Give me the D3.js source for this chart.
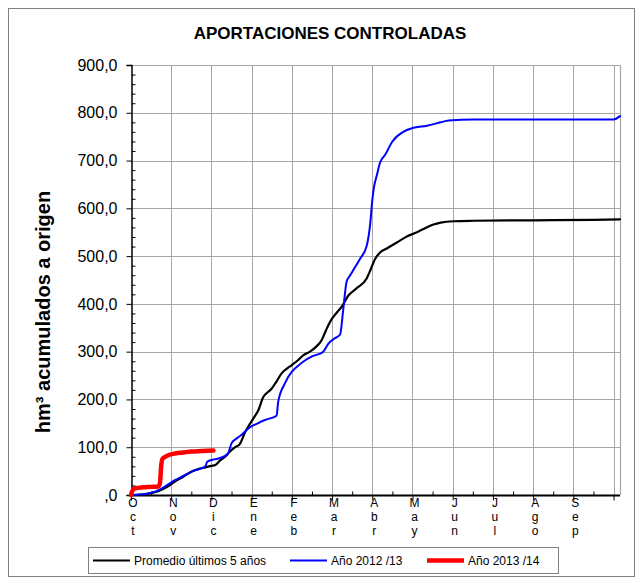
<!DOCTYPE html>
<html><head><meta charset="utf-8">
<script src="https://cdn.jsdelivr.net/npm/d3@7"></script>
<style>
body{margin:0;background:#fff;}
svg text{font-family:"Liberation Sans",Arial,sans-serif;fill:#000;}
</style></head>
<body>
<svg id="chart" width="642" height="583"></svg>
<script>
// ---- data ----
const title = "APORTACIONES CONTROLADAS";
const yTitle = "hm³ acumulados a origen";
const months = ["Oct","Nov","Dic","Ene","Feb","Mar","Abr","May","Jun","Jul","Ago","Sep"];
const yTicks = [0,100,200,300,400,500,600,700,800,900];
const seriesNames = ["Promedio últimos 5 años","Año 2012 /13","Año 2013 /14"];
// [month position from 1 Oct, hm3]
const promedio = [[0,0],[0.3,1],[0.5,4],[0.68,8],[0.9,17],[1.09,28],[1.3,38],[1.51,49],[1.75,56],[2.0,61],[2.1,63],[2.21,72],[2.34,80],[2.45,90],[2.59,100],[2.7,106],[2.84,132],[2.95,148],[3.04,160],[3.17,178],[3.29,205],[3.4,215],[3.5,223],[3.62,238],[3.75,255],[3.87,264],[4.0,272],[4.15,282],[4.29,293],[4.45,300],[4.6,310],[4.74,324],[4.85,345],[4.99,368],[5.1,380],[5.24,394],[5.41,418],[5.6,432],[5.86,453],[5.95,470],[6.07,494],[6.2,508],[6.36,516],[6.6,528],[6.86,541],[7.11,550],[7.3,558],[7.52,566],[7.7,570],[8.02,573],[8.5,574],[10,575],[11.5,576],[12.16,577]];
const anio1213 = [[0,0],[0.35,2],[0.6,7],[0.85,18],[1.09,31],[1.3,40],[1.51,49],[1.75,56],[1.84,59],[1.9,70],[2.1,75],[2.34,82],[2.42,88],[2.5,108],[2.62,118],[2.75,126],[2.96,142],[3.15,150],[3.33,157],[3.62,166],[3.66,195],[3.83,234],[4.0,258],[4.15,270],[4.28,279],[4.5,290],[4.78,300],[4.91,317],[5.05,327],[5.2,336],[5.28,390],[5.36,446],[5.45,460],[5.53,471],[5.7,495],[5.86,521],[5.95,569],[6.0,617],[6.05,648],[6.11,668],[6.19,695],[6.32,712],[6.5,740],[6.77,760],[7.0,768],[7.36,773],[7.7,780],[7.9,784],[8.5,786],[12.0,786],[12.16,793]];
const anio1314 = [[0,0],[0.03,8],[0.1,14],[0.3,16],[0.5,17],[0.68,18],[0.72,25],[0.75,60],[0.78,75],[0.85,80],[0.95,84],[1.1,87],[1.3,89],[1.5,91],[1.75,92],[2.05,93]];
const seriesColors = ["#000000","#0000ff","#ff0000"];

// ---- layout ----
const svg = d3.select("#chart");
const L = 131, R = 620, T = 65, B = 495;
const x = d3.scaleLinear().domain([0, 12.16]).range([L, R]);
const y = d3.scaleLinear().domain([0, 900]).range([B, T]);
const grid = "#a6a6a6";

// outer frame
svg.append("rect").attr("x",8.5).attr("y",8.5).attr("width",626).attr("height",568)
  .attr("fill","#fff").attr("stroke","#808080").attr("stroke-width",1);

// title
svg.append("text").attr("x",330).attr("y",39).attr("text-anchor","middle")
  .attr("font-size",17).attr("font-weight","bold").text(title);

// gridlines
const g = svg.append("g");
g.selectAll("line.h").data(yTicks.filter(v=>v>0&&v<900)).enter().append("line")
  .attr("x1",L).attr("x2",R).attr("y1",d=>Math.round(y(d))+0.5).attr("y2",d=>Math.round(y(d))+0.5)
  .attr("stroke",grid).attr("stroke-width",1);
g.selectAll("line.v").data(d3.range(1,13)).enter().append("line")
  .attr("y1",T).attr("y2",B).attr("x1",d=>Math.round(x(d))+0.5).attr("x2",d=>Math.round(x(d))+0.5)
  .attr("stroke",grid).attr("stroke-width",1);
// plot frame (top & right)
g.append("path").attr("d",`M${L},${T+0.5}H${R+0.5}V${B}`).attr("fill","none").attr("stroke",grid).attr("stroke-width",1.2);

// axes
const fmt = v => v===0 ? ",0" : d3.format(".1f")(v).replace(".",",");
const yAxis = svg.append("g").attr("transform",`translate(${L+0.5},0)`)
  .call(d3.axisLeft(y).tickValues(yTicks).tickSize(5).tickPadding(9).tickFormat(fmt));
const yMinor = svg.append("g").attr("transform",`translate(${L+0.5},0)`)
  .call(d3.axisRight(y).tickValues(d3.range(20,900,20).filter(v=>v%100!==0)).tickSize(4).tickFormat(""));
[yAxis,yMinor].forEach(a=>{a.select(".domain").attr("stroke","#000").attr("stroke-width",1.5);a.selectAll(".tick line").attr("stroke","#000");});
yAxis.selectAll("text").attr("font-size",16).attr("font-family","'Liberation Sans',Arial,sans-serif");
yMinor.select(".domain").remove();

const xAxis = svg.append("g").attr("transform",`translate(0,${B+0.5})`)
  .call(d3.axisBottom(x).tickValues(d3.range(0,13)).tickSize(5).tickFormat(""));
const xMinor = svg.append("g").attr("transform",`translate(0,${B+0.5})`)
  .call(d3.axisTop(x).tickValues(d3.range(0.5,12,1)).tickSize(4).tickFormat(""));
xAxis.select(".domain").attr("d",`M${L},0H${R}`).attr("stroke","#000").attr("stroke-width",2);
xMinor.select(".domain").remove();
[xAxis,xMinor].forEach(a=>a.selectAll(".tick line").attr("stroke","#000"));

// month labels (vertical letters)
const ml = svg.append("g");
months.forEach((m,i)=>{
  const t = ml.append("text").attr("text-anchor","middle").attr("font-size",12);
  m.split("").forEach((ch,j)=>{
    t.append("tspan").attr("x",x(i)+2).attr("y",507+j*14).text(ch);
  });
});

// y title
svg.append("text").attr("transform","translate(50,312) rotate(-90)").attr("text-anchor","middle")
  .attr("font-size",20).attr("font-weight","bold").text(yTitle);

// lines
const line = d3.line().x(d=>x(d[0])).y(d=>y(d[1])).curve(d3.curveMonotoneX);
const data = [promedio, anio1213, anio1314];
const widths = [2.2, 2, 4.5];
const lg = svg.append("g");
lg.selectAll("path").data(data).enter().append("path")
  .attr("d",line).attr("fill","none")
  .attr("stroke",(d,i)=>seriesColors[i]).attr("stroke-width",(d,i)=>widths[i])
  .attr("stroke-linejoin","round").attr("stroke-linecap","round");

// legend
const leg = svg.append("g");
leg.append("rect").attr("x",88.5).attr("y",547.5).attr("width",470).attr("height",26)
  .attr("fill","#fff").attr("stroke","#808080");
const legX = [93, 290, 427];
seriesNames.forEach((n,i)=>{
  leg.append("line").attr("x1",legX[i]).attr("x2",legX[i]+37).attr("y1",560.5).attr("y2",560.5)
    .attr("stroke",seriesColors[i]).attr("stroke-width",widths[i]);
  leg.append("text").attr("x",legX[i]+41).attr("y",565).attr("font-size",12).text(n);
});
</script>
</body></html>
